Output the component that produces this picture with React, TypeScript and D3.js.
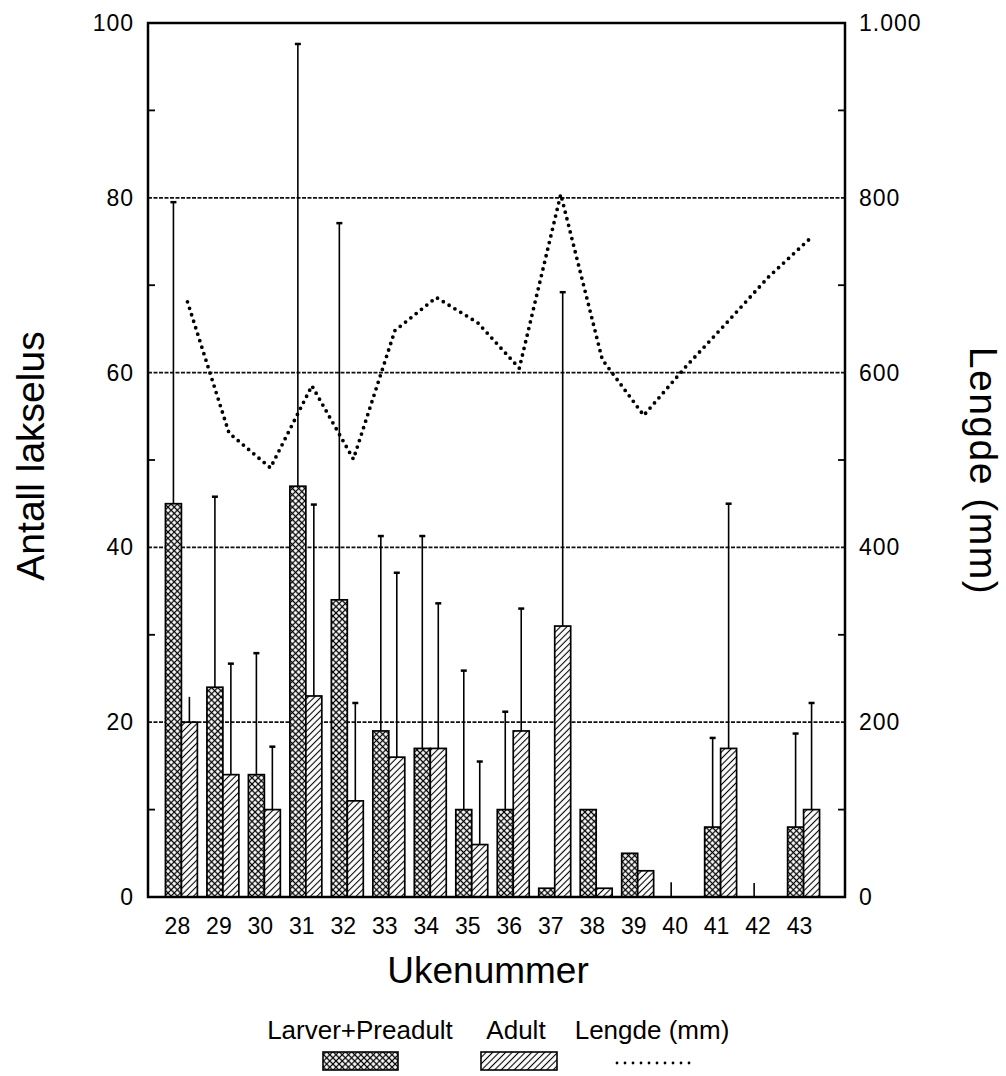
import React, { useEffect, useRef } from 'react';
import * as d3 from 'd3';

// Uker (x-akse)
const weeks = ['28', '29', '30', '31', '32', '33', '34', '35', '36', '37', '38', '39', '40', '41', '42', '43'];
// Antall lakselus, Larver+Preadult (middel og standardavvik)
const larver = [45, 24, 14, 47, 34, 19, 17, 10, 10, 1, 10, 5, 0, 8, 0, 8];
const larverSd = [34.5, 21.8, 13.9, 50.6, 43.1, 22.3, 24.3, 15.9, 11.2, 0, 0, 0, 1.7, 10.2, 1.6, 10.7];
// Antall lakselus, Adult
const adult = [20, 14, 10, 23, 11, 16, 17, 6, 19, 31, 1, 3, 0, 17, 0, 10];
const adultSd = [2.9, 12.7, 7.2, 21.9, 11.2, 21.1, 16.6, 9.5, 14, 38.2, 0, 0, 0, 28, 0, 12.2];
// Lengde (mm), høyre akse
const lengde = [681, 531, 491, 585, 501, 648, 686, 657, 605, 804, 615, 551, 606, 657, 709, 753];

const leftTicks = [0, 20, 40, 60, 80, 100];
const rightTicks = [0, 200, 400, 600, 800, 1000];
const rightTickLabels = ['0', '200', '400', '600', '800', '1.000'];
const gridValues = [20, 40, 60, 80];

const FONT = '"Liberation Sans", Arial, Helvetica, sans-serif';

const App = () => {
  const ref = useRef<SVGSVGElement>(null);

  useEffect(() => {
    const svg = d3.select(ref.current);
    svg.selectAll('*').remove();

    const left = 148;
    const right = 845;
    const top = 23;
    const bottom = 897;

    const x = d3.scaleBand().domain(weeks).range([153, 832]).paddingInner(0.23).paddingOuter(0.3);
    const y = d3.scaleLinear().domain([0, 100]).range([bottom, top]);
    const y2 = d3.scaleLinear().domain([0, 1000]).range([bottom, top]);
    const bw = x.bandwidth() / 2;

    // patterns
    const defs = svg.append('defs');
    const cross = defs.append('pattern')
      .attr('id', 'cross')
      .attr('patternUnits', 'userSpaceOnUse')
      .attr('width', 4.4)
      .attr('height', 4.4)
      .attr('patternTransform', 'rotate(45)');
    cross.append('rect').attr('width', 4.4).attr('height', 4.4).attr('fill', '#fff');
    cross.append('path').attr('d', 'M2.2,0V4.4M0,2.2H4.4').attr('stroke', '#000').attr('stroke-width', 1.2);

    const hatch = defs.append('pattern')
      .attr('id', 'hatch')
      .attr('patternUnits', 'userSpaceOnUse')
      .attr('width', 4.6)
      .attr('height', 4.6)
      .attr('patternTransform', 'rotate(45)');
    hatch.append('rect').attr('width', 4.6).attr('height', 4.6).attr('fill', '#fff');
    hatch.append('line').attr('x1', 2.3).attr('y1', 0).attr('x2', 2.3).attr('y2', 4.6)
      .attr('stroke', '#000').attr('stroke-width', 1.1);

    // gridlines
    svg.selectAll('.grid')
      .data(gridValues)
      .enter()
      .append('line')
      .attr('x1', left)
      .attr('x2', right)
      .attr('y1', d => y(d))
      .attr('y2', d => y(d))
      .attr('stroke', '#111')
      .attr('stroke-width', 1.7)
      .attr('stroke-dasharray', '4,1.5');

    // bars + error bars
    const drawSeries = (vals: number[], sds: number[], fill: string, offset: number) => {
      const g = svg.append('g');
      vals.forEach((v, i) => {
        const x0 = x(weeks[i])! + offset;
        const cx = x0 + bw / 2;
        if (v > 0) {
          g.append('rect')
            .attr('x', x0)
            .attr('y', y(v))
            .attr('width', bw)
            .attr('height', bottom - y(v))
            .attr('fill', fill)
            .attr('stroke', '#000')
            .attr('stroke-width', 1.7);
        }
        if (sds[i] > 0) {
          g.append('line')
            .attr('x1', cx).attr('x2', cx)
            .attr('y1', y(v)).attr('y2', y(v + sds[i]))
            .attr('stroke', '#000')
            .attr('stroke-width', 1.6);
          if (sds[i] > 3) {
            g.append('line')
              .attr('x1', cx - 3).attr('x2', cx + 3)
              .attr('y1', y(v + sds[i])).attr('y2', y(v + sds[i]))
              .attr('stroke', '#000')
              .attr('stroke-width', 2.5);
          }
        }
      });
    };
    drawSeries(larver, larverSd, 'url(#cross)', 0);
    drawSeries(adult, adultSd, 'url(#hatch)', bw);

    // length line (dotted)
    const line = d3.line<number>()
      .x((_, i) => x(weeks[i])! + x.bandwidth() * 0.69)
      .y(d => y2(d));
    svg.append('path')
      .datum(lengde)
      .attr('d', line)
      .attr('fill', 'none')
      .attr('stroke', '#000')
      .attr('stroke-width', 3.8)
      .attr('stroke-linecap', 'round')
      .attr('stroke-dasharray', '0 6.8');

    // frame / axes
    const frame = svg.append('g').attr('stroke', '#000').attr('stroke-width', 2.5).attr('fill', 'none');
    frame.append('path').attr('d', `M${left},${top}H${right}V${bottom}H${left}Z`);

    d3.range(10, 100, 20).forEach(v => {
      frame.append('line').attr('x1', left).attr('x2', left + 7).attr('y1', y(v)).attr('y2', y(v)).attr('stroke-width', 1.8);
    });
    d3.range(100, 1000, 200).forEach(v => {
      frame.append('line').attr('x1', right - 7).attr('x2', right).attr('y1', y2(v)).attr('y2', y2(v)).attr('stroke-width', 1.8);
    });

    // tick labels
    svg.selectAll('.ltick')
      .data(leftTicks)
      .enter()
      .append('text')
      .attr('x', left - 14)
      .attr('y', d => y(d))
      .attr('dy', '0.35em')
      .attr('text-anchor', 'end')
      .style('font-family', FONT)
      .style('font-size', '23px')
      .style('letter-spacing', '1px')
      .text(d => d);

    svg.selectAll('.rtick')
      .data(rightTicks)
      .enter()
      .append('text')
      .attr('x', right + 14)
      .attr('y', d => y2(d))
      .attr('dy', '0.35em')
      .attr('text-anchor', 'start')
      .style('font-family', FONT)
      .style('font-size', '23px')
      .style('letter-spacing', '1px')
      .text((_, i) => rightTickLabels[i]);

    svg.selectAll('.xtick')
      .data(weeks)
      .enter()
      .append('text')
      .attr('x', d => x(d)! + x.bandwidth() / 2 - 4)
      .attr('y', bottom + 37)
      .attr('text-anchor', 'middle')
      .style('font-family', FONT)
      .style('font-size', '23px')
      .text(d => d);

    // axis titles
    svg.append('text')
      .attr('transform', 'translate(30,456) rotate(-90)')
      .attr('text-anchor', 'middle')
      .attr('dy', '0.35em')
      .style('font-family', FONT)
      .style('font-size', '39px')
      .text('Antall lakselus');

    svg.append('text')
      .attr('transform', 'translate(984,471) rotate(90)')
      .attr('text-anchor', 'middle')
      .attr('dy', '0.35em')
      .style('font-family', FONT)
      .style('font-size', '39px')
      .style('letter-spacing', '1.5px')
      .text('Lengde (mm)');

    svg.append('text')
      .attr('x', 488)
      .attr('y', 983)
      .attr('text-anchor', 'middle')
      .style('font-family', FONT)
      .style('font-size', '37px')
      .text('Ukenummer');

    // legend
    const legend = svg.append('g').style('font-family', FONT).style('font-size', '26px');
    legend.append('text').attr('x', 360).attr('y', 1039).attr('text-anchor', 'middle').text('Larver+Preadult');
    legend.append('text').attr('x', 516).attr('y', 1039).attr('text-anchor', 'middle').text('Adult');
    legend.append('text').attr('x', 652).attr('y', 1039).attr('text-anchor', 'middle').text('Lengde (mm)');
    legend.append('rect').attr('x', 323).attr('y', 1052).attr('width', 75).attr('height', 18)
      .attr('fill', 'url(#cross)').attr('stroke', '#000').attr('stroke-width', 1.6);
    legend.append('rect').attr('x', 481).attr('y', 1052).attr('width', 76).attr('height', 18)
      .attr('fill', 'url(#hatch)').attr('stroke', '#000').attr('stroke-width', 1.6);
    legend.append('line').attr('x1', 617).attr('x2', 697).attr('y1', 1063).attr('y2', 1063)
      .attr('stroke', '#000').attr('stroke-width', 2.8).attr('stroke-linecap', 'round')
      .attr('stroke-dasharray', '0 8');
  }, []);

  return (
    <svg
      ref={ref}
      width={1006}
      height={1076}
      style={{ position: 'absolute', left: 0, top: 0, background: '#fff' }}
    />
  );
};

export default App;
